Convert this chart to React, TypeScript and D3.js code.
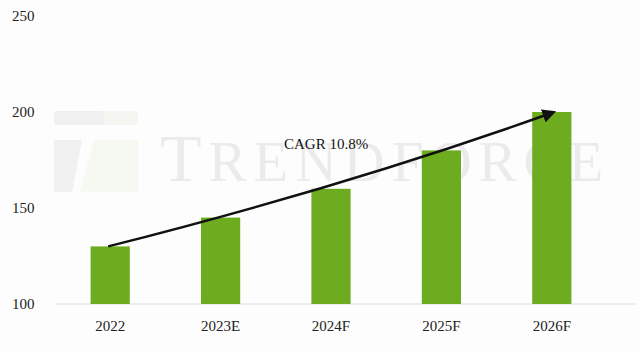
import React from "react";
import * as d3 from "d3";

const categories = ["2022", "2023E", "2024F", "2025F", "2026F"];
const values = [130, 145, 160, 180, 200];
const yTicks = [100, 150, 200, 250];
const cagrLabel = "CAGR 10.8%";

export default function App() {
  const W = 640, H = 352;
  const x = d3.scaleBand<string>().domain(categories).range([55, 607]).paddingInner(0.645).paddingOuter(0.3225);
  const y = d3.scaleLinear().domain([100, 250]).range([304, 16]);
  const font = "'Liberation Serif', 'Times New Roman', serif";
  const cx = (c: string) => (x(c) as number) + x.bandwidth() / 2;
  const x0 = cx(categories[0]) - 2, y0 = y(values[0]);
  const x1 = cx(categories[categories.length - 1]) + 2, y1 = y(values[values.length - 1]);
  const ctrlX = (x0 + x1) / 2 + 12, ctrlY = (y0 + y1) / 2 + 8;
  const path = `M${x0},${y0} Q${ctrlX},${ctrlY} ${x1 - 8},${y1 + 3}`;
  return (
    <svg width={W} height={H} style={{ position: "absolute", left: 0, top: 0, background: "#fdfdfd" }}>
      <defs>
        <marker id="ah" viewBox="0 0 10 10" refX="2" refY="5" markerWidth="5.5" markerHeight="5.5" orient="auto">
          <path d="M0,0 L10,5 L0,10 z" fill="#111" />
        </marker>
      </defs>
      {/* watermark */}
      <g opacity={0.55}>
        <rect x={54} y={111} width={50} height={14} fill="#e6e6e8" rx={2} />
        <rect x={104} y={111} width={34} height={14} fill="#f0f2e8" rx={2} />
        <path d="M54,140 L82,140 L72,192 L54,192 Z" fill="#e8e8ea" />
        <path d="M94,140 L138,140 L138,192 L80,192 Z" fill="#f2f4ea" />
      </g>
      <text x={160} y={181} fontFamily={font} fontSize={68} fill="#ebebed" letterSpacing={7}>
        T<tspan fontSize={57}>RENDFORCE</tspan>
      </text>
      {/* axis labels */}
      {yTicks.map((t) => (
        <text key={t} x={12} y={y(t) + 5} fontFamily={font} fontSize={15} fill="#222">{t}</text>
      ))}
      <line x1={55} x2={636} y1={y(100)} y2={y(100)} stroke="#d9dce2" strokeWidth={1} />
      {categories.map((c, i) => (
        <rect key={c} x={x(c)} y={y(values[i])} width={x.bandwidth()} height={y(100) - y(values[i])} fill="#6cac1e" />
      ))}
      {categories.map((c) => (
        <text key={c} x={cx(c)} y={331} textAnchor="middle" fontFamily={font} fontSize={15} fill="#222">{c}</text>
      ))}
      <path d={path} fill="none" stroke="#111" strokeWidth={2.5} markerEnd="url(#ah)" />
      <text x={284} y={149} fontFamily={font} fontSize={15} fill="#111">{cagrLabel}</text>
    </svg>
  );
}
